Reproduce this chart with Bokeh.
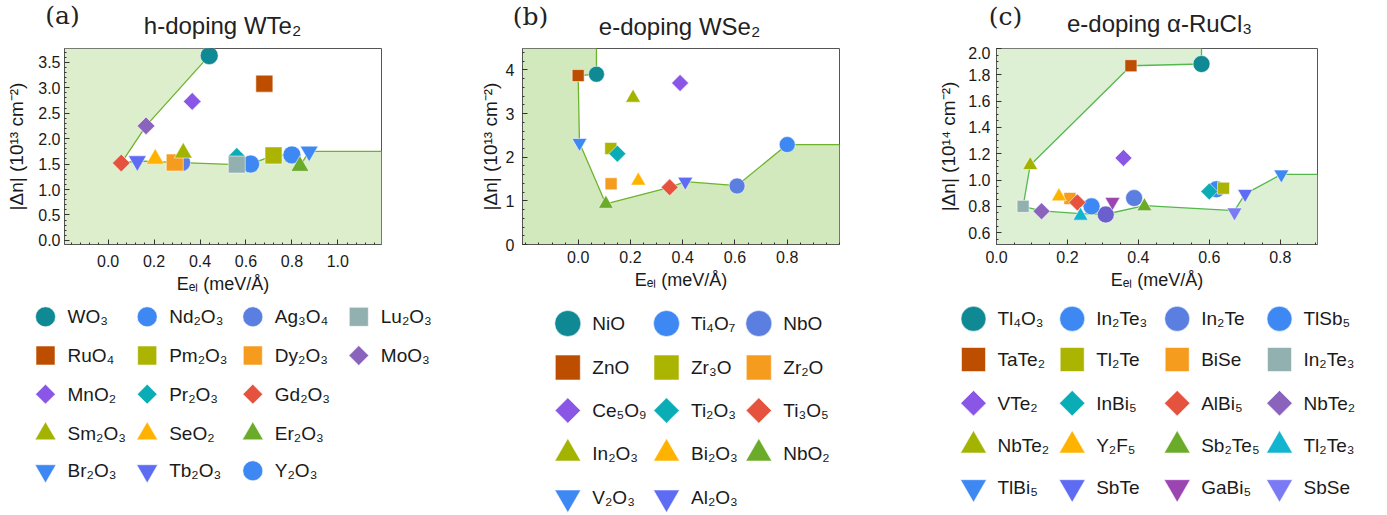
import math
from bokeh.plotting import figure
from bokeh.models import Range1d, FixedTicker, NumeralTickFormatter
from bokeh.layouts import row, column
from bokeh.embed import file_html
from bokeh.resources import INLINE
from bokeh.core.properties import value

FONT = "Liberation Sans"

# colours
TEAL = "#0f8a94"; BLUE = "#3e88f4"; PERI = "#5b7fe0"; GRAY = "#93b0b0"; RUST = "#bd4e00"
OLIVE = "#abb400"; ORANGE = "#f59b1e"; VIOLET = "#8a56e6"; CYAN = "#0aadb5"; RED = "#e5533f"
PURPLE = "#8a63bd"; OLIVE_T = "#a3b400"; YELLOW = "#ffb300"; GREEN = "#6aab2a"; CYAN_T = "#13b4d0"
INDIGO = "#5e6cf4"; MAUVE = "#9a45b0"; LAVENDER = "#7a7af4"; SLATE = "#6a5fcc"

# ---------------- (a) h-doping WTe2 ----------------
a_names = ["WO₃", "RuO₄", "MnO₂", "Sm₂O₃", "Br₂O₃",
           "Nd₂O₃", "Pm₂O₃", "Pr₂O₃", "SeO₂", "Tb₂O₃",
           "Ag₃O₄", "Dy₂O₃", "Gd₂O₃", "Er₂O₃", "Y₂O₃",
           "Lu₂O₃", "MoO₃"]
a_eel = [0.44, 0.68, 0.366, 0.327, 0.875,
         0.80, 0.72, 0.56, 0.205, 0.127,
         0.32, 0.29, 0.057, 0.835, 0.62,
         0.56, 0.165]
a_dn = [3.63, 3.08, 2.73, 1.72, 1.75,
        1.68, 1.67, 1.65, 1.60, 1.56,
        1.53, 1.53, 1.52, 1.46, 1.50,
        1.49, 2.25]
a_front_eel = [0.44, 0.165, 0.057, 0.127, 0.32, 0.56, 0.62, 0.72, 0.80, 0.835, 0.875]
a_front_dn = [3.63, 2.25, 1.52, 1.56, 1.53, 1.49, 1.50, 1.67, 1.68, 1.46, 1.75]
a_xticks = [0.0, 0.2, 0.4, 0.6, 0.8, 1.0]
a_yticks = [0.0, 0.5, 1.0, 1.5, 2.0, 2.5, 3.0, 3.5]
a_style = [("circle", TEAL), ("square", RUST), ("diamond", VIOLET), ("triangle", OLIVE_T), ("inverted_triangle", BLUE),
           ("circle", BLUE), ("square", OLIVE), ("diamond", CYAN), ("triangle", YELLOW), ("inverted_triangle", INDIGO),
           ("circle", PERI), ("square", ORANGE), ("diamond", RED), ("triangle", GREEN), ("circle", BLUE),
           ("square", GRAY), ("diamond", PURPLE)]

# ---------------- (b) e-doping WSe2 ----------------
b_names = ["NiO", "ZnO", "Ce₅O₉", "In₂O₃", "V₂O₃",
           "Ti₄O₇", "Zr₃O", "Ti₂O₃", "Bi₂O₃", "Al₂O₃",
           "NbO", "Zr₂O", "Ti₃O₅", "NbO₂"]
b_eel = [0.07, 0.0, 0.39, 0.21, 0.005,
         0.80, 0.125, 0.15, 0.23, 0.41,
         0.608, 0.126, 0.35, 0.106]
b_dn = [3.90, 3.87, 3.70, 3.36, 2.33,
        2.29, 2.20, 2.08, 1.46, 1.44,
        1.34, 1.39, 1.31, 0.93]
b_front_eel = [0.07, 0.0, 0.005, 0.106, 0.35, 0.41, 0.608, 0.80]
b_front_dn = [3.90, 3.87, 2.33, 0.93, 1.31, 1.44, 1.35, 2.29]
b_xticks = [0.0, 0.2, 0.4, 0.6, 0.8]
b_yticks = [0, 1, 2, 3, 4]
b_style = [("circle", TEAL), ("square", RUST), ("diamond", VIOLET), ("triangle", OLIVE_T), ("inverted_triangle", BLUE),
           ("circle", BLUE), ("square", OLIVE), ("diamond", CYAN), ("triangle", YELLOW), ("inverted_triangle", INDIGO),
           ("circle", PERI), ("square", ORANGE), ("diamond", RED), ("triangle", GREEN)]

# ---------------- (c) e-doping alpha-RuCl3 ----------------
c_names = ["Tl₄O₃", "TaTe₂", "VTe₂", "NbTe₂", "TlBi₅",
           "In₂Te₃", "Tl₂Te", "InBi₅", "Y₂F₅", "SbTe",
           "In₂Te", "BiSe", "AlBi₅", "Sb₂Te₅", "GaBi₅",
           "TlSb₅", "In₂Te₃", "NbTe₂", "Tl₂Te₃", "SbSe"]
c_eel = [0.578, 0.379, 0.358, 0.095, 0.803,
         0.268, 0.640, 0.600, 0.176, 0.701,
         0.388, 0.207, 0.228, 0.417, 0.327,
         0.620, 0.075, 0.127, 0.237, 0.671]
c_dn = [1.882, 1.869, 1.168, 1.113, 1.043,
        0.800, 0.938, 0.913, 0.875, 0.895,
        0.863, 0.860, 0.830, 0.800, 0.835,
        0.930, 0.800, 0.763, 0.728, 0.755]
c_extra_eel = [0.308]
c_extra_dn = [0.738]
c_front_eel = [0.578, 0.379, 0.095, 0.075, 0.127, 0.237, 0.308, 0.417, 0.671, 0.701, 0.803]
c_front_dn = [1.882, 1.869, 1.113, 0.800, 0.765, 0.745, 0.740, 0.806, 0.768, 0.895, 1.043]
c_xticks = [0.0, 0.2, 0.4, 0.6, 0.8]
c_yticks = [0.6, 0.8, 1.0, 1.2, 1.4, 1.6, 1.8, 2.0]
c_style = [("circle", TEAL), ("square", RUST), ("diamond", VIOLET), ("triangle", OLIVE_T), ("inverted_triangle", BLUE),
           ("circle", BLUE), ("square", OLIVE), ("diamond", CYAN), ("triangle", YELLOW), ("inverted_triangle", INDIGO),
           ("circle", PERI), ("square", ORANGE), ("diamond", RED), ("triangle", GREEN), ("inverted_triangle", MAUVE),
           ("circle", BLUE), ("square", GRAY), ("diamond", PURPLE), ("triangle", CYAN_T), ("inverted_triangle", LAVENDER)]

HEAD_H = 46
PLOT_H = 252
LEG_H = 217


def minor_list(lo, hi, step):
    n0 = math.ceil(lo / step - 1e-9)
    n1 = math.floor(hi / step + 1e-9)
    return [round(k * step, 6) for k in range(n0, n1 + 1)]


def blank_fig(W, H):
    p = figure(width=W, height=H, x_range=Range1d(0, W), y_range=Range1d(H, 0),
               toolbar_location=None, output_backend="svg", x_axis_type=None, y_axis_type=None,
               min_border=0, outline_line_color=None)
    p.xgrid.visible = False
    p.ygrid.visible = False
    return p


def draw_marker(p, xs, ys, kind, color, sizes):
    kw = dict(fill_color=color, line_color="white", line_alpha=0.55, line_width=1)
    if kind == "diamond":
        p.scatter(xs, ys, marker="square", angle=math.pi / 4, size=sizes["diamond"], **kw)
    else:
        p.scatter(xs, ys, marker=kind, size=sizes[kind], **kw)


def header_panel(W, tag, tag_pos, title, title_pos):
    p = blank_fig(W, HEAD_H)
    p.text(x=[tag_pos[0]], y=[tag_pos[1]], text=[tag], text_font=value("DejaVu Serif"),
           text_font_size="25px", text_align="center", text_baseline="middle", text_color="#222222")
    p.text(x=[title_pos[0]], y=[title_pos[1]], text=[title], text_font=value(FONT),
           text_font_size="24px", text_align="center", text_baseline="middle", text_color="#222222")
    return p


def plot_panel(W, xs, ys, styles, fx, fy, xr, yr,
               borders, xticks, xminor, yticks, yminor, xfmt, yfmt, fill, line, sizes, order,
               ylabel, ystand, ylstand, xstand, extra=None):
    bl, br, bt, bb = borders
    p = figure(width=W, height=PLOT_H, x_range=Range1d(*xr), y_range=Range1d(*yr),
               toolbar_location=None, output_backend="svg",
               min_border_left=bl, min_border_right=br, min_border_top=bt, min_border_bottom=bb)
    p.xgrid.visible = False
    p.ygrid.visible = False
    p.outline_line_color = "#555555"
    p.outline_line_width = 1
    p.background_fill_color = "white"

    # shaded region outside the frontier
    x0, x1 = xr
    y0, y1 = yr
    px = [x0, fx[0]] + list(fx) + [x1, x1, x0]
    py = [y1, y1] + list(fy) + [fy[-1], y0, y0]
    p.patch(px, py, fill_color=fill, line_color=None)
    lx = [fx[0]] + list(fx) + [x1]
    ly = [y1] + list(fy) + [fy[-1]]
    p.line(lx, ly, line_color=line, line_width=1.3)

    if extra is not None:
        draw_marker(p, extra[0], extra[1], "circle", SLATE, sizes)
    for kind in order:
        for i, (k, col) in enumerate(styles):
            if k == kind:
                draw_marker(p, [xs[i]], [ys[i]], k, col, sizes)

    p.xaxis.ticker = FixedTicker(ticks=xticks, minor_ticks=minor_list(x0, x1, xminor))
    p.yaxis.ticker = FixedTicker(ticks=yticks, minor_ticks=minor_list(y0, y1, yminor))
    p.xaxis.formatter = NumeralTickFormatter(format=xfmt)
    p.yaxis.formatter = NumeralTickFormatter(format=yfmt)
    for ax in (p.xaxis[0], p.yaxis[0]):
        ax.major_tick_in = 5
        ax.major_tick_out = 0
        ax.minor_tick_in = 2
        ax.minor_tick_out = 0
        ax.major_tick_line_color = "#333333"
        ax.minor_tick_line_color = "#333333"
        ax.axis_line_color = "#555555"
        ax.major_label_text_font = FONT
        ax.major_label_text_font_size = "16px"
        ax.major_label_text_color = "#1a1a1a"
        ax.axis_label_text_font = FONT
        ax.axis_label_text_font_style = "normal"
        ax.axis_label_text_color = "#1a1a1a"
    p.yaxis.axis_label = ylabel
    p.yaxis.axis_label_text_font_size = "19px"
    p.yaxis.major_label_standoff = ystand
    p.yaxis.axis_label_standoff = ylstand
    p.xaxis.axis_label = "Eₑₗ (meV/Å)"
    p.xaxis.axis_label_text_font_size = "18px"
    p.xaxis.major_label_standoff = xstand
    p.xaxis.axis_label_standoff = 4
    return p


def legend_panel(W, names, styles, col_x, row_y, lab_off, sizes):
    p = blank_fig(W, LEG_H)
    tx, ty = [], []
    for i, (kind, col) in enumerate(styles):
        cx = col_x[i // 5]
        cy = row_y[i % 5]
        draw_marker(p, [cx], [cy], kind, col, sizes)
        tx.append(cx + lab_off)
        ty.append(cy)
    p.text(x=tx, y=ty, text=names, text_font=value(FONT), text_font_size="19px",
           text_baseline="middle", text_align="left", text_color="#1a1a1a")
    return p


ORDER_A = ["circle", "diamond", "square", "triangle", "inverted_triangle"]
ORDER_B = ["circle", "square", "diamond", "triangle", "inverted_triangle"]
ORDER_C = ["circle", "square", "diamond", "triangle", "inverted_triangle"]

size_a = {"circle": 18, "square": 17, "diamond": 12.5, "triangle": 18, "inverted_triangle": 18}
size_b = {"circle": 16, "square": 12, "diamond": 12, "triangle": 15, "inverted_triangle": 15}
size_c = {"circle": 17, "square": 12, "diamond": 12, "triangle": 15, "inverted_triangle": 15}
leg_a = {"circle": 20, "square": 19, "diamond": 14, "triangle": 21, "inverted_triangle": 21}
leg_b = {"circle": 26, "square": 25, "diamond": 18, "triangle": 26, "inverted_triangle": 26}
leg_c = {"circle": 25, "square": 24, "diamond": 18, "triangle": 26, "inverted_triangle": 26}

YL13 = "|Δn| (10¹³ cm⁻²)"
YL14 = "|Δn| (10¹⁴ cm⁻²)"

WA, WB, WC = 460, 460, 467

ha = header_panel(WA, "(a)", (62, 15), "h-doping WTe₂", (222, 25))
hb = header_panel(WB, "(b)", (70, 16), "e-doping WSe₂", (219, 26))
hc = header_panel(WC, "(c)", (85, 16), "e-doping α-RuCl₃", (239, 23))

pa = plot_panel(WA, a_eel, a_dn, a_style,
                a_front_eel, a_front_dn, (-0.19, 1.19), (-0.08, 3.77),
                (64, 79, 2, 54), a_xticks, 0.04, a_yticks, 0.1, "0.0", "0.0",
                "#ddeecd", "#6db42c", size_a, ORDER_A, YL13, 4, 8, 10)
pb = plot_panel(WB, b_eel, b_dn, b_style,
                b_front_eel, b_front_dn, (-0.213, 1.0), (0.0, 4.49),
                (62, 81, 2, 54), b_xticks, 0.05, b_yticks, 0.2, "0.0", "0",
                "#d2e8bd", "#6db42c", size_b, ORDER_B, YL13, 8, 2, 6)
pc = plot_panel(WC, c_eel, c_dn, c_style,
                c_front_eel, c_front_dn, (0.0, 0.905), (0.51, 2.0),
                (76, 70, 2, 54), c_xticks, 0.05, c_yticks, 0.05, "0.0", "0.0",
                "#ddf0d3", "#55b84f", size_c, ORDER_C, YL14, 6, 6, 6,
                extra=(c_extra_eel, c_extra_dn))

la = legend_panel(WA, a_names, a_style, [45, 146.7, 252.3, 358.3],
                  [18.3, 57, 95.7, 135.3, 172.3], 22, leg_a)
lb = legend_panel(WB, b_names, b_style, [107.3, 206, 298.3],
                  [25, 69, 112, 155, 199], 24.5, leg_b)
lc = legend_panel(WC, c_names, c_style, [53, 151.7, 256.7, 359],
                  [20.3, 61, 104.7, 147, 188.7], 24, leg_c)

layout = column(row(ha, hb, hc), row(pa, pb, pc), row(la, lb, lc))
open("out.html", "w").write(file_html(layout, INLINE))
